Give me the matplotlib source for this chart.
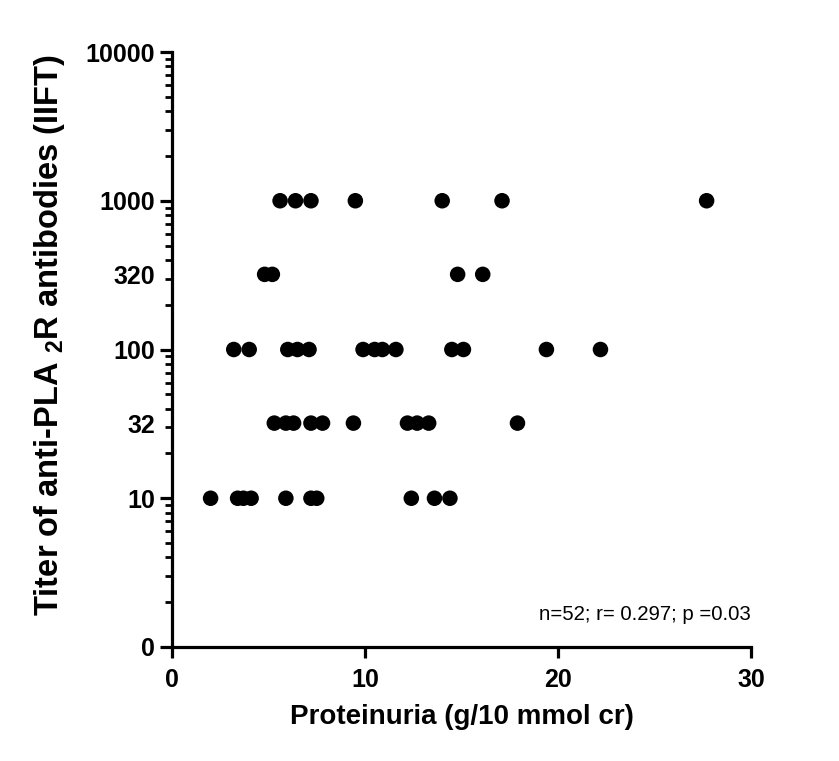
import matplotlib
matplotlib.use("Agg")
import matplotlib.pyplot as plt
from matplotlib.ticker import FixedLocator, NullFormatter

plt.rcParams['font.family'] = ['Liberation Sans', 'DejaVu Sans']
plt.rcParams['mathtext.fontset'] = 'custom'
plt.rcParams['mathtext.rm'] = 'Liberation Sans:bold'
plt.rcParams['mathtext.bf'] = 'Liberation Sans:bold'

# Data (proteinuria g/10 mmol cr, titer)
prot_1000 = [5.6, 6.4, 7.2, 9.5, 14.0, 17.1, 27.7]
prot_320 = [4.8, 5.2, 14.8, 16.1]
prot_100 = [3.2, 4.0, 6.0, 6.5, 7.1, 9.9, 10.5, 10.9, 11.6, 14.5, 15.1, 19.4, 22.2]
prot_32 = [5.3, 5.9, 6.3, 7.2, 7.8, 9.4, 12.2, 12.7, 13.3, 17.9]
prot_10 = [2.0, 3.4, 3.7, 4.1, 5.9, 7.2, 7.5, 12.4, 13.6, 14.4]
titer_levels = [1000, 320, 100, 32, 10]

y_ticks = [1, 10, 32, 100, 320, 1000, 10000]
y_tick_labels = ['0', '10', '32', '100', '320', '1000', '10000']
x_ticks = [0, 10, 20, 30]
annotation = "n=52; r= 0.297; p =0.03"

fig = plt.figure(figsize=(8.39, 7.61), dpi=100)
ax = fig.add_axes([172/839, (761-647)/761, 579/839, 595/761])

groups = [prot_1000, prot_320, prot_100, prot_32, prot_10]
for xs, t in zip(groups, titer_levels):
    ax.scatter(xs, [t]*len(xs), s=125, color='black', edgecolors='none', zorder=3, clip_on=False)

ax.set_yscale('log')
ax.set_ylim(1, 10000)
ax.set_xlim(0, 30)

for s in ['top', 'right']:
    ax.spines[s].set_visible(False)
for s in ['left', 'bottom']:
    ax.spines[s].set_linewidth(2.3)

ax.yaxis.set_major_locator(FixedLocator(y_ticks))
ax.set_yticklabels(y_tick_labels, fontsize=18, fontweight='bold')
minor = [m * 10**d for d in range(0, 4) for m in range(2, 10)]
ax.yaxis.set_minor_locator(FixedLocator(minor))
ax.yaxis.set_minor_formatter(NullFormatter())
ax.tick_params(axis='y', which='major', length=8.6, width=2.3, pad=3.6)
ax.tick_params(axis='y', which='minor', length=5, width=2.0)
for i, tk in enumerate(ax.yaxis.get_major_ticks()):
    if y_ticks[i] in (32, 320):
        tk.tick1line.set_markersize(0)

ax.set_xticks(x_ticks)
ax.set_xticklabels([str(v) for v in x_ticks], fontsize=18, fontweight='bold')
ax.tick_params(axis='x', which='major', length=8, width=2.3, pad=7)

ax.set_xlabel('Proteinuria (g/10 mmol cr)', fontsize=20, fontweight='bold', labelpad=9)
ax.set_ylabel(r'Titer of anti-PLA $_\mathrm{2}$R antibodies (IIFT)', fontsize=23.5, fontweight='bold')
ax.yaxis.set_label_coords(-0.181, 0.524)

ax.text(0.9995, 0.046, annotation, transform=ax.transAxes, ha='right', va='baseline', fontsize=14.7)

fig.savefig('out.png', dpi=100)
